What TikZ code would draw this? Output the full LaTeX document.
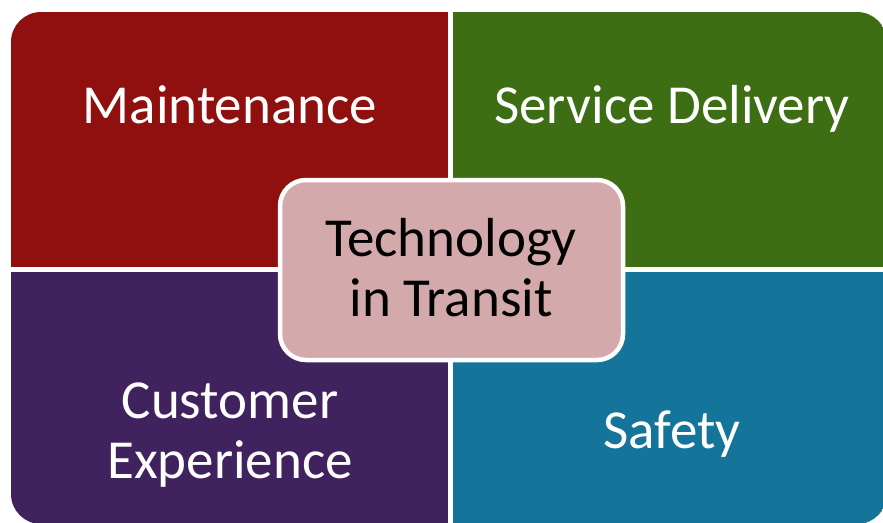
\documentclass[tikz,border=0pt]{standalone}
\usepackage{fontspec}
\setmainfont{Carlito}
\definecolor{qred}{HTML}{8F100E}
\definecolor{qgreen}{HTML}{3D6E14}
\definecolor{qpurple}{HTML}{40225F}
\definecolor{qteal}{HTML}{14749A}
\definecolor{qpink}{HTML}{D4A9AB}
\tikzset{
  qlabel/.style={anchor=base, text=white, inner sep=0pt, font=\fontsize{55}{60}\selectfont},
  clabel/.style={anchor=base, text=black, inner sep=0pt, font=\fontsize{55}{60}\selectfont},
  hub/.style={fill=qpink, draw=white, line width=4.5pt, rounded corners=26pt}
}
\begin{document}
\begin{tikzpicture}[x=1pt,y=-1pt]
\useasboundingbox (0,0) rectangle (883,522);
\fill[white] (0,0) rectangle (883,522);
\begin{scope}
  \clip[rounded corners=30pt] (11,12) rectangle (887,524);
  \fill[qred] (11,12) rectangle (448,267);
  \fill[qgreen] (453,12) rectangle (887,267);
  \fill[qpurple] (11,272) rectangle (448,524);
  \fill[qteal] (453,272) rectangle (887,524);
\end{scope}
\draw[hub] (280,180) rectangle (623,360);
\node[qlabel] (maint) at (230,123) {Maintenance};
\node[qlabel] (serv) at (672,123) {Service Delivery};
\node[qlabel] (cust1) at (230,418) {Customer};
\node[qlabel] (cust2) at (230,478) {Experience};
\node[qlabel] (safe) at (672,448) {Safety};
\node[clabel] (tech1) at (451,256) {Technology};
\node[clabel] (tech2) at (451,316) {in Transit};
\end{tikzpicture}
\end{document}
